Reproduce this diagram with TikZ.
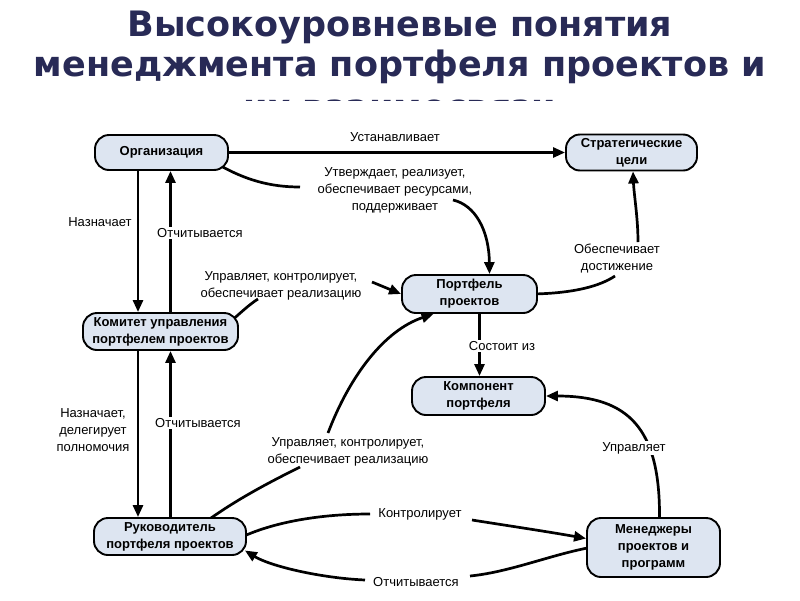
\documentclass[tikz,border=0pt]{standalone}
\usepackage{fontspec}
\newfontfamily\dfont{Liberation Sans}
\newfontfamily\tfont{DejaVu Sans}
\usetikzlibrary{arrows.meta,calc}
\pgfdeclarelayer{bg}
\pgfdeclarelayer{edges}
\pgfsetlayers{bg,edges,main}
\definecolor{nodefill}{RGB}{221,229,241}
\definecolor{titlecol}{RGB}{40,42,86}
\begin{document}
\begin{tikzpicture}[x=1pt,y=-1pt,
  box/.style={draw=black,line width=1.9pt,rounded corners=14pt,fill=nodefill,align=center,inner sep=0pt,font=\dfont\bfseries\fontsize{13}{17}\selectfont},
  lbl/.style={align=center,inner sep=1.5pt,font=\dfont\fontsize{13}{17}\selectfont},
  lblw/.style={lbl,fill=white},
  conn/.style={line width=2.7pt,draw=black},
  arr/.style={conn,-{Triangle[length=12pt,width=10pt]}},
  ttl/.style={font=\tfont\bfseries\fontsize{35}{40}\selectfont,text=titlecol,anchor=base,inner sep=0pt}
]
\useasboundingbox (0,0) rectangle (800,600);
\begin{pgfonlayer}{bg}
\fill[white] (0,0) rectangle (800,600);
\end{pgfonlayer}

% title
\begin{scope}
\clip (0,0) rectangle (800,100);
\node[ttl] (t1) at (400,36) {Высокоуровневые понятия};
\node[ttl] (t2) at (400,76) {менеджмента портфеля проектов и};
\node[ttl] (t3) at (400,119) {их взаимосвязи};
\end{scope}

% nodes
\node[box,minimum width=133pt,minimum height=35pt] (org) at (161.5,152.5) {Организация};
\node[box,minimum width=131pt,minimum height=36pt] (strat) at (631.5,152.5) {Стратегические\\цели};
\node[box,minimum width=135pt,minimum height=38pt] (port) at (469.5,294) {Портфель\\проектов};
\node[box,minimum width=155pt,minimum height=37pt] (kom) at (160.5,331.5) {Комитет управления\\портфелем проектов};
\node[box,minimum width=133pt,minimum height=38pt] (comp) at (478.5,396) {Компонент\\портфеля};
\node[box,minimum width=152pt,minimum height=37pt] (ruk) at (170,536.5) {Руководитель\\портфеля проектов};
\node[box,minimum width=133pt,minimum height=59pt] (men) at (653.5,547.5) {Менеджеры\\проектов и\\программ};

% free ends of split connectors
\coordinate (c2a) at (300,187);
\coordinate (c2b) at (453,200);
\coordinate (c3a) at (615,276);
\coordinate (c3b) at (638,242);
\coordinate (c8a) at (258,299);
\coordinate (c8b) at (372,282);
\coordinate (c9a) at (300,467);
\coordinate (c9b) at (328,433);
\coordinate (c12a) at (370,514);
\coordinate (c12b) at (472,520);
\coordinate (c13a) at (470,576);
\coordinate (c13b) at (365,580);

\begin{pgfonlayer}{edges}
\draw[arr] (org.east) -- (strat.west);
\draw[conn] ($(org.center)+(55,11)$) .. controls (245,180) and (270,187) .. (c2a);
\draw[arr] (c2b) .. controls (475,205) and (489,230) .. ($(port.north)+(20,0)$);
\draw[conn] ($(port.east)+(-4,0)$) .. controls (575,293) and (600,286) .. (c3a);
\draw[arr] (c3b) .. controls (638,218) and (634,195) .. ($(strat.south)+(1.5,0)$);
\draw[arr] ([xshift=-23.5pt]org.south) -- ([xshift=-23.5pt]org.south |- kom.north);
\draw[arr] ([xshift=10pt]kom.north) -- ([xshift=10pt]kom.north |- org.south);
\draw[arr] ([xshift=-22.5pt]kom.south) -- ([xshift=-22.5pt]kom.south |- ruk.north);
\draw[arr] ([xshift=0.5pt]ruk.north) -- ([xshift=0.5pt]ruk.north |- kom.south);
\draw[conn] ($(kom.center)+(66,-6)$) .. controls (240,313) and (250,304) .. (c8a);
\draw[arr] (c8b) -- (port.west);
\draw[conn] ($(ruk.center)+(32,-12)$) .. controls (235,500) and (270,482) .. (c9a);
\draw[arr] (c9b) .. controls (350,375) and (385,330) .. ($(port.south)+(-36,0)$);
\draw[arr] ([xshift=10pt]port.south) -- ([xshift=10pt]port.south |- comp.north);
\draw[arr] ([xshift=6pt]men.north) .. controls (660,430) and (630,396) .. (comp.east);
\draw[conn] ($(ruk.east)+(-4,0)$) .. controls (275,522) and (320,514) .. (c12a);
\draw[arr] (c12b) .. controls (510,526) and (550,532) .. ($(men.west)+(0,-9)$);
\draw[conn] ($(men.west)+(4,0)$) .. controls (550,555) and (510,572) .. (c13a);
\draw[arr] (c13b) .. controls (320,578) and (270,566) .. ($(ruk.east)+(-2,14)$);
\end{pgfonlayer}

% labels
\node[lbl] (l1) at (395,137.5) {Устанавливает};
\node[lbl] (l2) at (395,190) {Утверждает, реализует,\\обеспечивает ресурсами,\\поддерживает};
\node[lbl] (l3) at (617,259) {Обеспечивает\\достижение};
\node[lbl] (l4) at (100,222) {Назначает};
\node[lblw] (l5) at (200,233) {Отчитывается};
\node[lbl] (l6) at (281,286) {Управляет, контролирует,\\обеспечивает реализацию};
\node[lblw] (l7) at (502,346) {Состоит из};
\node[lbl] (l8) at (93,430) {Назначает,\\делегирует\\полномочия};
\node[lblw] (l9) at (198,423) {Отчитывается};
\node[lbl] (l10) at (348,452) {Управляет, контролирует,\\обеспечивает реализацию};
\node[lblw] (l11) at (634,448) {Управляет};
\node[lbl] (l12) at (420,514) {Контролирует};
\node[lbl] (l13) at (416,582) {Отчитывается};
\end{tikzpicture}
\end{document}
